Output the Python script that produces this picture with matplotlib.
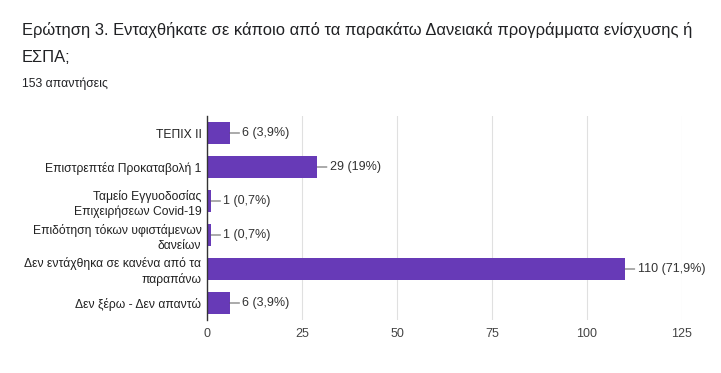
import matplotlib
matplotlib.use("Agg")
import matplotlib.pyplot as plt
import numpy as np

plt.rcParams['font.family'] = ['Liberation Sans', 'DejaVu Sans']

categories = ["ΤΕΠΙΧ ΙΙ", "Επιστρεπτέα Προκαταβολή 1", "Ταμείο Εγγυοδοσίας\nΕπιχειρήσεων Covid-19",
              "Επιδότηση τόκων υφιστάμενων\nδανείων", "Δεν εντάχθηκα σε κανένα από τα\nπαραπάνω",
              "Δεν ξέρω - Δεν απαντώ"]
values = [6, 29, 1, 1, 110, 6]
labels = ["6 (3,9%)", "29 (19%)", "1 (0,7%)", "1 (0,7%)", "110 (71,9%)", "6 (3,9%)"]
xticks = [0, 25, 50, 75, 100, 125]

fig = plt.figure(figsize=(7.21, 3.73), dpi=100)
ax = fig.add_axes([207/721, 1-320/373, 475/721, 204/373])

y = np.arange(len(categories))
ax.barh(y, values, height=0.62, color="#673AB7", zorder=3)
ax.set_ylim(len(categories)-0.5, -0.5)
ax.set_xlim(0, 125)
ax.set_xticks(xticks)
ax.set_yticks(y)
ax.set_yticklabels(categories, fontsize=8.7, color="#222222", linespacing=1.3)
ax.tick_params(axis='both', length=0, pad=4)
ax.tick_params(axis='x', labelsize=9, labelcolor="#444444", pad=6)
ax.grid(axis='x', color="#e0e0e0", linewidth=0.8, zorder=0)
for s in ['top', 'right', 'bottom']:
    ax.spines[s].set_visible(False)
ax.spines['left'].set_color("#333333")
ax.spines['left'].set_linewidth(1.0)
ax.spines['left'].set_zorder(4)

for yi, v, lab in zip(y, values, labels):
    ax.annotate(lab, xy=(v, yi), xytext=(9, 0), textcoords='offset points',
                va='center', ha='left', fontsize=9, color="#333333",
                arrowprops=dict(arrowstyle='-', color="#555555", lw=0.7,
                                shrinkA=0, shrinkB=0))

fig.text(22/721, 1-30/373, "Ερώτηση 3. Ενταχθήκατε σε κάποιο από τα παρακάτω Δανειακά προγράμματα ενίσχυσης ή",
         fontsize=11.9, color="#202124", va='center', ha='left')
fig.text(22/721, 1-57/373, "ΕΣΠΑ;", fontsize=11.9, color="#202124", va='center', ha='left')
fig.text(22/721, 1-84/373, "153 απαντήσεις", fontsize=8.8, color="#202124", va='center', ha='left')

fig.savefig("out.png", dpi=100, facecolor="white")
